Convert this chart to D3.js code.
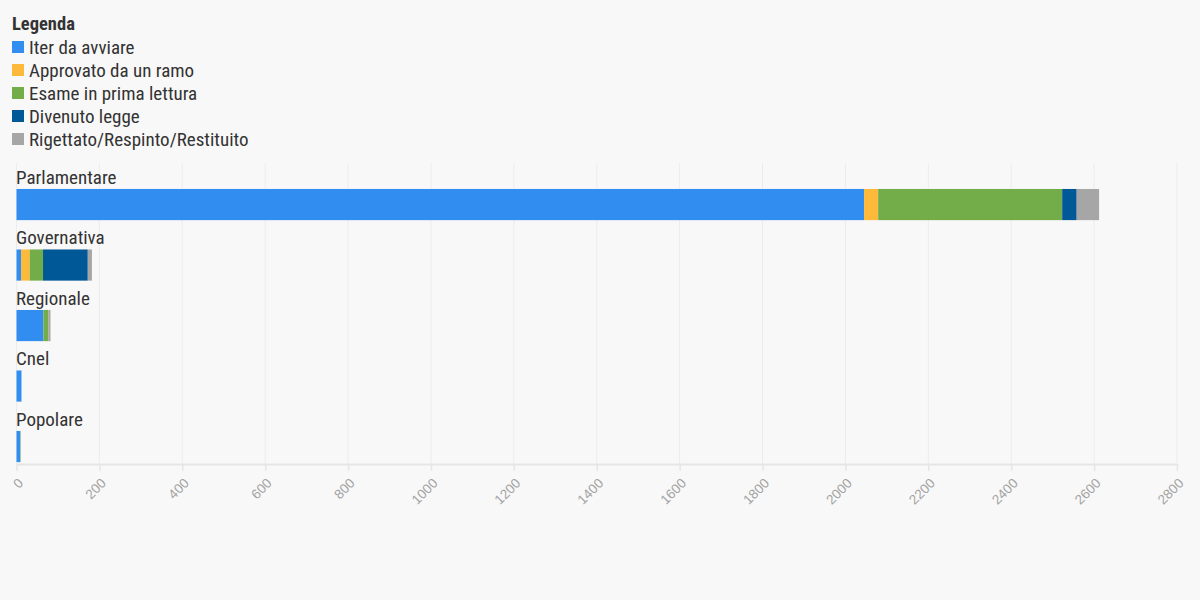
<!DOCTYPE html>
<html><head><meta charset="utf-8">
<script src="https://cdn.jsdelivr.net/npm/d3@7"></script>
<style>
body{margin:0;background:#f8f8f8;}
svg{display:block;font-family:"Roboto Condensed","Liberation Sans Narrow",Roboto,sans-serif;}
</style></head><body>
<svg id="c" width="1200" height="600"></svg>
<script>
const categories = ["Parlamentare","Governativa","Regionale","Cnel","Popolare"];
const seriesNames = ["Iter da avviare","Approvato da un ramo","Esame in prima lettura","Divenuto legge","Rigettato/Respinto/Restituito"];
const seriesColors = ["#318ef0","#fdb93a","#72ad4a","#005896","#a6a6a6"];
const iterDaAvviare = [2045, 11, 65, 12, 9];
const approvato = [34, 21, 0, 0, 0];
const esame = [444, 32, 12, 0, 1];
const divenuto = [35, 108, 0, 0, 0];
const rigettato = [54, 10, 5, 0, 0];
const tickValues = [0,200,400,600,800,1000,1200,1400,1600,1800,2000,2200,2400,2600,2800];

const seriesValues = [iterDaAvviare, approvato, esame, divenuto, rigettato];
const rows = categories.map((c,i)=>{const r={cat:c}; seriesNames.forEach((s,j)=>r[s]=seriesValues[j][i]); return r;});
const stack = d3.stack().keys(seriesNames)(rows);

const svg = d3.select("#c");
const x = d3.scaleLinear().domain([0,2800]).range([16.5,1177]);
const y = d3.scaleBand().domain(categories).range([174.3,476.8]).paddingInner(0.485).paddingOuter(0.2425);
// grid
svg.append("g").selectAll("line").data(tickValues).join("line")
  .attr("x1",d=>x(d)).attr("x2",d=>x(d)).attr("y1",163).attr("y2",464)
  .attr("stroke","#ececec").attr("stroke-width",1);
// axis
const ax = svg.append("g").attr("transform","translate(0,464)")
  .call(d3.axisBottom(x).tickValues(tickValues).tickSize(7).tickSizeOuter(0).tickFormat(d3.format("d")));
ax.select(".domain").attr("stroke","#e6e6e6").attr("stroke-width",2);
ax.selectAll(".tick line").attr("stroke","#e6e6e6").attr("stroke-width",1.5);
ax.selectAll(".tick text").attr("fill","#a3a3a3").attr("font-size",13.5)
  .attr("text-anchor","end").attr("dx",0).attr("dy",0).attr("y",0)
  .attr("transform","translate(7,20) rotate(-45)");
// bars
svg.append("g").selectAll("g").data(stack).join("g").attr("fill",(d,i)=>seriesColors[i])
  .selectAll("rect").data(d=>d).join("rect")
  .attr("x",d=>x(d[0])).attr("width",d=>x(d[1])-x(d[0]))
  .attr("y",d=>y(d.data.cat)).attr("height",y.bandwidth());
// category labels
svg.append("g").selectAll("text").data(categories).join("text")
  .attr("x",16).attr("y",d=>y(d)-5).attr("fill","#333").attr("font-size",19).text(d=>d);
// legend
svg.append("text").attr("x",12).attr("y",30).attr("font-size",18.5).attr("font-weight","bold").attr("fill","#333").text("Legenda");
const lg = svg.append("g").selectAll("g").data(seriesNames).join("g")
  .attr("transform",(d,i)=>`translate(12,${41+i*23})`);
lg.append("rect").attr("width",12).attr("height",12).attr("fill",(d,i)=>seriesColors[i]);
lg.append("text").attr("x",17).attr("y",13).attr("font-size",19).attr("fill","#333").text(d=>d);
</script></body></html>
